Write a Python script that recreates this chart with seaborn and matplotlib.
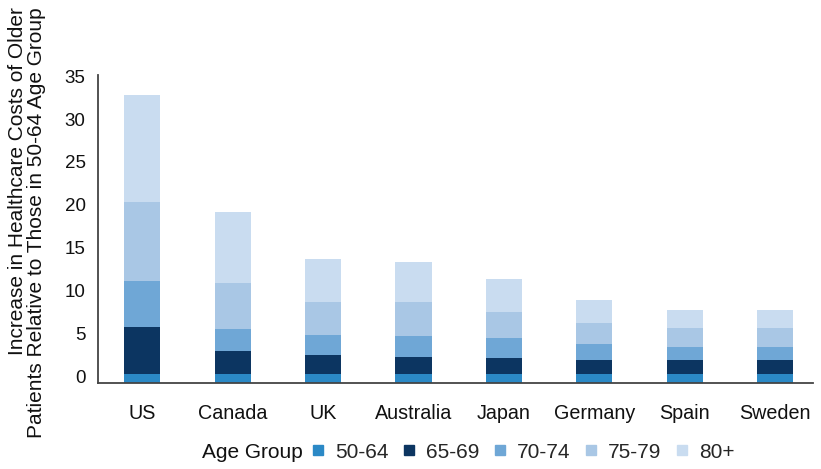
import numpy as np
import pandas as pd
import matplotlib
matplotlib.use("Agg")
import matplotlib.pyplot as plt
from matplotlib.lines import Line2D
import seaborn as sns

# Countries and age groups
countries = ["US", "Canada", "UK", "Australia", "Japan", "Germany", "Spain", "Sweden"]
age_groups = ["50-64", "65-69", "70-74", "75-79", "80+"]

# Contribution of each age group to the stacked bar (relative to the 50-64 group)
g_50_64 = [1.00, 1.00, 1.00, 1.00, 1.00, 1.00, 1.00, 1.00]
g_65_69 = [5.48, 2.75, 2.22, 2.02, 1.87, 1.67, 1.60, 1.60]
g_70_74 = [5.40, 2.50, 2.37, 2.42, 2.33, 1.87, 1.55, 1.55]
g_75_79 = [9.18, 5.44, 3.85, 4.00, 3.10, 2.41, 2.22, 2.22]
g_80_plus = [12.52, 8.25, 5.02, 4.67, 3.78, 2.72, 2.06, 2.06]

palette = ["#2b89c6", "#0c3561", "#6fa7d6", "#a9c7e5", "#c9dcf0"]

font = ["Liberation Sans", "DejaVu Sans"]
sns.set_theme(style="white")
plt.rcParams["font.family"] = font

df = pd.DataFrame({"Country": countries, "50-64": g_50_64, "65-69": g_65_69,
                   "70-74": g_70_74, "75-79": g_75_79, "80+": g_80_plus})
cum = df[age_groups].cumsum(axis=1)

fig = plt.figure(figsize=(8.21, 4.69), dpi=100)
ax = fig.add_axes([98 / 821, 1 - 382.7 / 469, (813 - 98) / 821, (382.7 - 75) / 469])

# Draw cumulative totals from the top group down so each layer covers the one above it
for grp, col in zip(reversed(age_groups), reversed(palette)):
    sns.barplot(x=df["Country"], y=cum[grp], color=col, width=0.4,
                saturation=1, linewidth=0, ax=ax, order=countries)

ax.set_xlim(-0.49, 7.42)
ax.set_ylim(0, 35.9)
ax.set_yticks(np.arange(0, 36, 5))
ax.set_xlabel("")
ax.set_ylabel("")
ax.tick_params(axis="both", length=0, colors="#111111")
ax.tick_params(axis="y", pad=9, labelsize=13.5)
ax.tick_params(axis="x", pad=15, labelsize=14.2)
for lab in ax.get_yticklabels():
    lab.set_va("baseline")

for side in ["top", "right"]:
    ax.spines[side].set_visible(False)
for side in ["left", "bottom"]:
    ax.spines[side].set_color("#444444")
    ax.spines[side].set_linewidth(1.3)

# Two-line axis title, both lines aligned at their upper end
fig.text(27 / 821, 1 - 7 / 469,
         "Increase in Healthcare Costs of Older\nPatients Relative to Those in 50-64 Age Group",
         rotation=90, ha="center", va="top", multialignment="right",
         fontsize=15, color="#111111", linespacing=1.0)

# Horizontal legend with its title on the left
fig.text(202 / 821, 1 - 452 / 469, "Age Group", fontsize=15, va="center", ha="left",
         color="#111111")
handles = [Line2D([], [], marker="s", linestyle="none", markersize=7,
                  markerfacecolor=c, markeredgecolor=c) for c in palette]
fig.legend(handles, age_groups, loc="center left",
           bbox_to_anchor=(310 / 821, 1 - 452 / 469), ncol=5, frameon=False,
           fontsize=15, handlelength=0.8, handletextpad=0.4, columnspacing=0.6,
           borderpad=0, borderaxespad=0)

fig.savefig("out.png", dpi=100)
